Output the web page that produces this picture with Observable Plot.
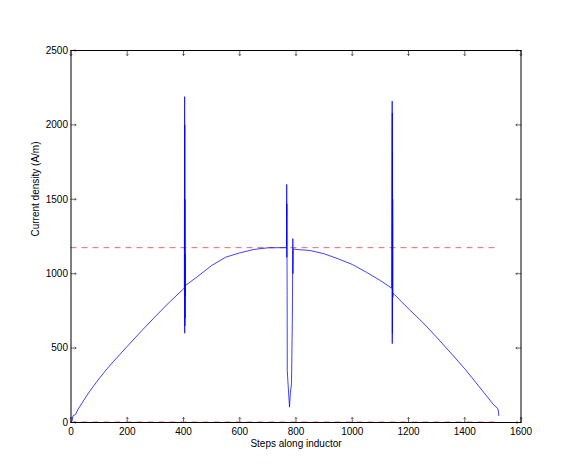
<!DOCTYPE html>
<html><head><meta charset="utf-8">
<script src="https://cdn.jsdelivr.net/npm/d3@7"></script>
<script src="https://cdn.jsdelivr.net/npm/@observablehq/plot@0.6"></script>
<style>body{margin:0;background:#fff}</style>
</head><body><div id="chart"></div>
<script>
// Steps along inductor (x) and current density in A/m (y)
const steps = [
  0, 4, 7, 10, 16, 26, 55, 80, 102, 130, 150, 200, 250, 300, 350, 400,
  403, 404, 404.3, 404.6, 404.9, 405.2, 405.5, 405.8, 406.1, 406.5,
  410, 450, 500, 550, 600, 650, 700, 750, 766,
  767, 767.3, 767.6, 768, 768.5, 769, 772, 777, 780, 784, 787, 788.7, 789.2, 790, 795,
  800, 850, 900, 950, 1000, 1050, 1100, 1140,
  1142, 1142.3, 1142.6, 1142.9, 1143.2, 1143.5, 1143.8, 1144.1, 1144.5, 1146,
  1150, 1200, 1250, 1300, 1350, 1400, 1450, 1500, 1518, 1520, 1521
];
const density = [
  0, 13, 45, 48, 54, 92, 178, 245, 300, 365, 408, 512, 614, 713, 809, 898,
  905, 2190, 600, 2000, 650, 1500, 700, 1130, 850, 934,
  925, 981, 1055, 1111, 1140, 1163, 1174, 1175, 1175,
  1600, 1110, 1470, 1111, 853, 350, 250, 103, 200, 262, 700, 1236, 1000, 1167, 1165,
  1163, 1156, 1134, 1100, 1062, 1010, 954, 903,
  2160, 530, 2080, 600, 1820, 850, 1500, 840, 870, 865,
  860, 764, 674, 573, 468, 361, 244, 125, 92, 70, 47
];
// dashed reference levels
const dashedLevels = [1175, 3];
const dashedStart = 0;
const dashedEnd = 1520;
// tick labels
const xTicks = [0, 200, 400, 600, 800, 1000, 1200, 1400, 1600];
const yTicks = [0, 500, 1000, 1500, 2000, 2500];
const xLabel = "Steps along inductor";
const yLabel = "Current density (A/m)";

const data = steps.map((x, i) => ({x, y: density[i]}));

const tickStroke = "#444";
const fmt = d => String(d);
const chart = Plot.plot({
  width: 575,
  height: 474,
  marginLeft: 70.5,
  marginRight: 54.5,
  marginTop: 50,
  marginBottom: 52,
  style: {fontFamily: "'Liberation Sans', Arial, Helvetica, sans-serif", fontSize: "10px", background: "white", color: "black"},
  x: {domain: [0, 1600]},
  y: {domain: [0, 2500]},
  marks: [
    Plot.axisX(xTicks, {tickSize: 0, tickPadding: 5, label: null, tickFormat: fmt}),
    Plot.axisY(yTicks, {tickSize: 0, tickPadding: 3, label: null, tickFormat: fmt}),
    Plot.vector(xTicks, {x: d => d, frameAnchor: "bottom", length: 5, anchor: "start", rotate: 0, stroke: tickStroke, strokeWidth: 0.8}),
    Plot.vector(xTicks, {x: d => d, frameAnchor: "top", length: 5, anchor: "start", rotate: 180, stroke: tickStroke, strokeWidth: 0.8}),
    Plot.vector(yTicks, {y: d => d, frameAnchor: "left", length: 5, anchor: "start", rotate: 90, stroke: tickStroke, strokeWidth: 0.8}),
    Plot.vector(yTicks, {y: d => d, frameAnchor: "right", length: 5, anchor: "start", rotate: -90, stroke: tickStroke, strokeWidth: 0.8}),
    Plot.ruleY(dashedLevels, {x1: dashedStart, x2: dashedEnd, stroke: "#ee6666", strokeWidth: 1, strokeDasharray: "6,5"}),
    Plot.line(data, {x: "x", y: "y", stroke: "#0000ff", strokeWidth: 0.75}),
    Plot.frame({stroke: "black", strokeWidth: 1}),
    Plot.text([xLabel], {frameAnchor: "bottom", dy: 24, fill: "black"}),
    Plot.text([yLabel], {frameAnchor: "left", dx: -35, rotate: -90, fill: "black"})
  ]
});
document.getElementById("chart").appendChild(chart);
</script>
</body></html>
